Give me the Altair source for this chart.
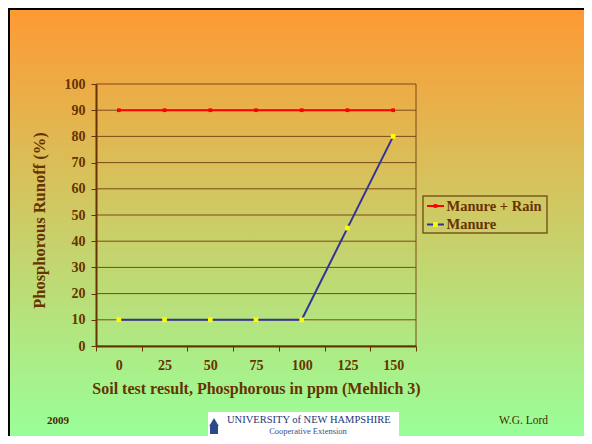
import altair as alt
import pandas as pd

# ---------------- data ----------------
ppm = [0, 25, 50, 75, 100, 125, 150]
manure_rain = [90, 90, 90, 90, 90, 90, 90]
manure = [10, 10, 10, 10, 10, 45, 80]
series_names = ["Manure + Rain", "Manure"]
y_ticks = [0, 10, 20, 30, 40, 50, 60, 70, 80, 90, 100]
footer_left = "2009"
footer_right = "W.G. Lord"
logo_line1 = "UNIVERSITY of NEW HAMPSHIRE"
logo_line2 = "Cooperative Extension"

# ---------------- layout ----------------
W, H = 320, 262
PAD_L, PAD_T = 88, 76
SVG_W, SVG_H = 576, 428
PAD_R = SVG_W - PAD_L - W
PAD_B = SVG_H - PAD_T - H

BROWN = "#663300"
GRID = "#7a4b16"
RED = "#FF0000"
NAVY = "#333399"
YELLOW = "#FFFF00"
FONT = "Liberation Serif"

df = pd.DataFrame({
    "ppm": ppm + ppm,
    "runoff": manure_rain + manure,
    "series": [series_names[0]] * len(ppm) + [series_names[1]] * len(ppm),
})
ticks_df = pd.DataFrame({"tick": y_ticks})
one = pd.DataFrame({"a": [0]})

xscale = alt.Scale(type="band", paddingInner=0, paddingOuter=0)
yscale = alt.Scale(domain=[0, 100], nice=False)

x_axis = alt.Axis(
    title="Soil test result, Phosphorous in ppm (Mehlich 3)",
    labelAngle=0, tickBand="extent", tickSize=5, tickColor=BROWN, tickWidth=1,
    domainColor=BROWN, domainWidth=2, labelPadding=7,
    labelFont=FONT, labelFontSize=14, labelFontWeight="bold", labelColor=BROWN,
    titleFont=FONT, titleFontSize=16, titleFontWeight="bold", titleColor=BROWN,
    titleX=W / 2, titleY=42, titleBaseline="middle", titleAlign="center",
    grid=False, zindex=1,
)
y_axis = alt.Axis(
    title="Phosphorous Runoff (%)", values=y_ticks, format="d",
    tickSize=5, tickColor=BROWN, tickWidth=1,
    domainColor=BROWN, domainWidth=2, labelPadding=6,
    labelFont=FONT, labelFontSize=14, labelFontWeight="bold", labelColor=BROWN,
    titleFont=FONT, titleFontSize=16.5, titleFontWeight="bold", titleColor=BROWN,
    titleX=-57, titleY=136, titleAngle=270, titleAlign="center", titleBaseline="middle",
    grid=False, zindex=1,
)

gradient = alt.LinearGradient(
    gradient="linear",
    stops=[alt.GradientStop(color="#FF9933", offset=0),
           alt.GradientStop(color="#99FF99", offset=1)],
    x1=0, x2=0, y1=0, y2=1,
)

background = alt.Chart(one).mark_rect(color=gradient).encode(
    x=alt.value(-PAD_L), x2=alt.value(W + PAD_R),
    y=alt.value(-PAD_T), y2=alt.value(H + PAD_B),
)
frame_left = alt.Chart(one).mark_rule(color="#000000", strokeWidth=2).encode(
    x=alt.value(-PAD_L + 1), y=alt.value(-PAD_T), y2=alt.value(H + PAD_B))
frame_top = alt.Chart(one).mark_rule(color="#000000", strokeWidth=2).encode(
    y=alt.value(-PAD_T + 1), x=alt.value(-PAD_L), x2=alt.value(W + PAD_R))

base = alt.Chart(df)
x_enc = alt.X("ppm:O", scale=xscale, axis=x_axis, sort=ppm)
y_enc = alt.Y("runoff:Q", scale=yscale, axis=y_axis)

gridlines = alt.Chart(ticks_df).mark_rule(color=GRID, strokeWidth=1).encode(
    y=alt.Y("tick:Q", scale=yscale, axis=y_axis))
right_border = alt.Chart(one).mark_rule(color=GRID, strokeWidth=1).encode(
    x=alt.value(W), y=alt.value(0), y2=alt.value(H))

line_rain = base.transform_filter(alt.datum.series == series_names[0]).mark_line(
    color=RED, strokeWidth=2).encode(x=x_enc, y=y_enc)
pts_rain = base.transform_filter(alt.datum.series == series_names[0]).mark_square(
    color=RED, size=14, opacity=1).encode(x=x_enc, y=y_enc)
line_man = base.transform_filter(alt.datum.series == series_names[1]).mark_line(
    color=NAVY, strokeWidth=2).encode(x=x_enc, y=y_enc)
pts_man = base.transform_filter(alt.datum.series == series_names[1]).mark_square(
    color=YELLOW, size=22, opacity=1).encode(x=x_enc, y=y_enc)

# ---------------- legend (decoration) ----------------
LX0, LX1, LY0, LY1 = 327, 451, 112, 149
ROW1, ROW2 = 122, 140.5
leg_box = alt.Chart(one).mark_rect(fill=None, fillOpacity=0, stroke="#7a5a20", strokeWidth=1.5).encode(
    x=alt.value(LX0), x2=alt.value(LX1), y=alt.value(LY0), y2=alt.value(LY1))
leg_l1 = alt.Chart(one).mark_rule(color=RED, strokeWidth=2).encode(
    x=alt.value(331), x2=alt.value(348), y=alt.value(ROW1))
leg_p1 = alt.Chart(one).mark_square(color=RED, size=14, opacity=1).encode(
    x=alt.value(339.5), y=alt.value(ROW1))
leg_l2 = alt.Chart(one).mark_rule(color=NAVY, strokeWidth=2).encode(
    x=alt.value(331), x2=alt.value(348), y=alt.value(ROW2))
leg_p2 = alt.Chart(one).mark_square(color=YELLOW, size=22, opacity=1).encode(
    x=alt.value(339.5), y=alt.value(ROW2))
leg_t1 = alt.Chart(one).mark_text(text=series_names[0], font=FONT, fontSize=14.5, fontWeight="bold",
                                  color=BROWN, align="left", baseline="middle").encode(
    x=alt.value(350.5), y=alt.value(ROW1 + 0.5))
leg_t2 = alt.Chart(one).mark_text(text=series_names[1], font=FONT, fontSize=14.5, fontWeight="bold",
                                  color=BROWN, align="left", baseline="middle").encode(
    x=alt.value(350.5), y=alt.value(ROW2 + 0.5))

# ---------------- footer ----------------
foot_l = alt.Chart(one).mark_text(text=footer_left, font=FONT, fontSize=11, fontWeight="bold",
                                  color="#4a2a00", align="left", baseline="middle").encode(
    x=alt.value(-49), y=alt.value(337))
foot_r = alt.Chart(one).mark_text(text=footer_right, font=FONT, fontSize=11.5,
                                  color="#4a2a00", align="left", baseline="middle").encode(
    x=alt.value(403), y=alt.value(337))
logo_bg = alt.Chart(one).mark_rect(color="#FFFFFF").encode(
    x=alt.value(112), x2=alt.value(303), y=alt.value(328), y2=alt.value(352))
logo_icon = alt.Chart(one).mark_point(shape="triangle-up", filled=True, color="#2a4a8a", size=90, opacity=1).encode(
    x=alt.value(118), y=alt.value(338))
logo_base = alt.Chart(one).mark_rect(color="#2a4a8a").encode(
    x=alt.value(114), x2=alt.value(122), y=alt.value(341), y2=alt.value(350))
logo_t1 = alt.Chart(one).mark_text(text=logo_line1, font=FONT, fontSize=10.5,
                                   color="#23377a", align="left", baseline="middle").encode(
    x=alt.value(131), y=alt.value(336))
logo_t2 = alt.Chart(one).mark_text(text=logo_line2, font=FONT, fontSize=8.5,
                                   color="#3a4f8a", align="center", baseline="middle").encode(
    x=alt.value(212), y=alt.value(346.5))

chart = alt.layer(
    background, frame_left, frame_top, gridlines, right_border,
    line_rain, line_man, pts_rain, pts_man,
    leg_box, leg_l1, leg_l2, leg_p1, leg_p2, leg_t1, leg_t2,
    foot_l, foot_r, logo_bg, logo_icon, logo_base, logo_t1, logo_t2,
).properties(
    width=W, height=H,
    autosize=alt.AutoSizeParams(type="none"),
    padding={"left": PAD_L, "top": PAD_T, "right": PAD_R, "bottom": PAD_B},
).configure_view(stroke=None)

chart.save("out.html", embed_options={"renderer": "svg", "actions": False})
